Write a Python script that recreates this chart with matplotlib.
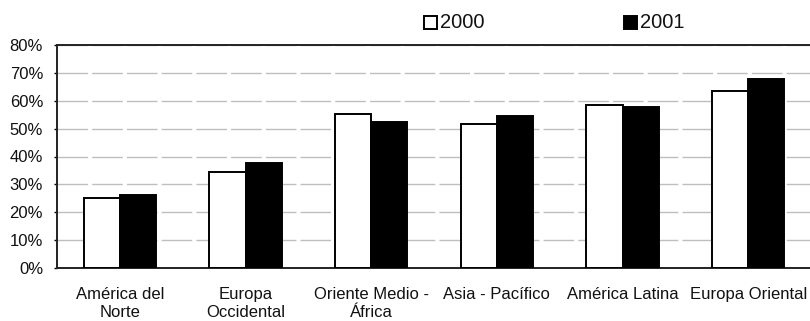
import matplotlib
matplotlib.use("Agg")
import matplotlib.pyplot as plt
from matplotlib.patches import Rectangle
from matplotlib.ticker import FuncFormatter
import numpy as np

plt.rcParams['font.family'] = ['Liberation Sans', 'DejaVu Sans']

regions = ["América del\nNorte", "Europa\nOccidental", "Oriente Medio -\nÁfrica",
           "Asia - Pacífico", "América Latina", "Europa Oriental"]
years = ["2000", "2001"]
values_2000 = [25.0, 34.5, 55.3, 51.6, 58.6, 63.6]
values_2001 = [26.3, 37.6, 52.5, 54.6, 57.8, 67.8]
y_ticks = [0, 10, 20, 30, 40, 50, 60, 70, 80]

fig = plt.figure(figsize=(8.10, 3.21), dpi=100)
ax = fig.add_axes([57 / 810, 1 - 268 / 321, (811 - 57) / 810, (268 - 45) / 321])

x = np.arange(len(regions))
w = 0.287
ax.bar(x - w / 2, values_2000, w, color="white", edgecolor="black", linewidth=1.4, zorder=3)
ax.bar(x + w / 2, values_2001, w, color="black", edgecolor="black", linewidth=1.4, zorder=3)

ax.set_xlim(-0.5, len(regions) - 0.5)
ax.set_ylim(0, 80)
ax.set_yticks(y_ticks)
ax.yaxis.set_major_formatter(FuncFormatter(lambda v, p: f"{int(v)}%"))
ax.set_xticks(x)
ax.set_xticklabels(regions, fontsize=12, linespacing=1.2, color="#111111")
ax.tick_params(axis="x", length=0, pad=14)
ax.tick_params(axis="y", length=2, width=1, pad=8, labelsize=12, labelcolor="#111111")

ax.grid(axis="y", color="#a8a8a8", linewidth=1.0, linestyle=(0, (22, 3)), alpha=0.75, zorder=0)
ax.spines["right"].set_visible(False)
for side in ("left", "bottom", "top"):
    ax.spines[side].set_linewidth(1.4)
    ax.spines[side].set_color("#222222")

# legend drawn as square markers followed by the year
legend_items = [(424, "white"), (624, "black")]
for (px, fc), yr in zip(legend_items, years):
    fig.patches.append(Rectangle((px / 810, 1 - 29 / 321), 13 / 810, 13 / 321,
                                 transform=fig.transFigure, facecolor=fc,
                                 edgecolor="black", linewidth=1.4))
    fig.text((px + 16) / 810, 1 - 22.5 / 321, yr, fontsize=14.5, va="center", ha="left",
             color="#111111")

fig.savefig("out.png", dpi=100)
